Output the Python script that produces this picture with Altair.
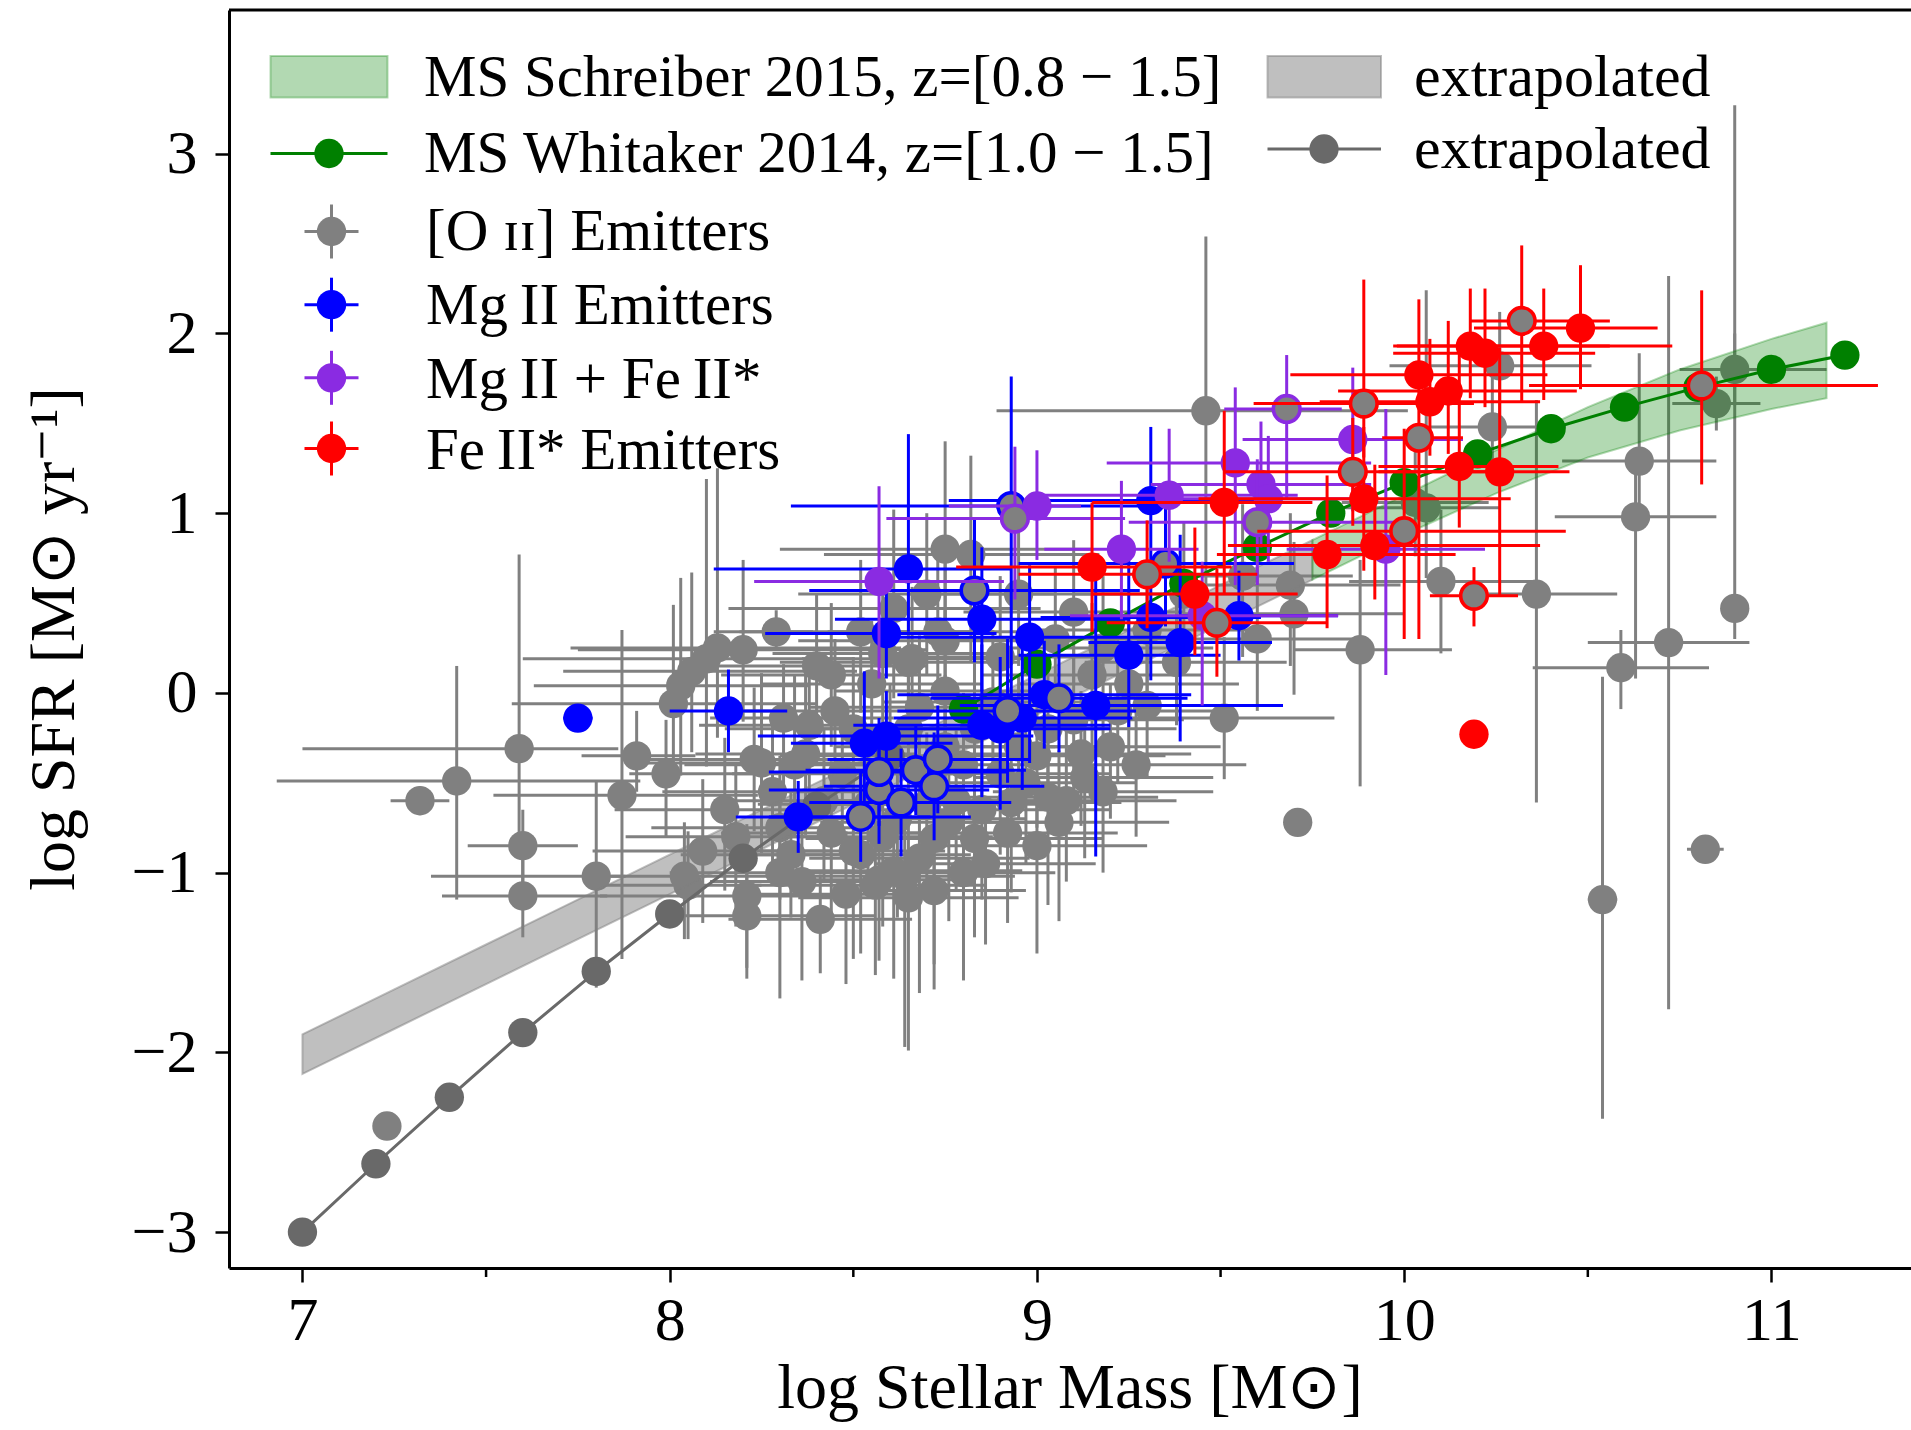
import altair as alt
import pandas as pd

# ---------------------------------------------------------------- data
# every row: log M*, log SFR, -err M, +err M, -err SFR, +err SFR
oii_rows = [
    (7.23, -2.41, 0.01, 0.01, 0.01, 0.01),
    (7.32, -0.60, 0.08, 0.08, 0.08, 0.08),
    (7.42, -0.49, 0.49, 0.50, 0.66, 0.64),
    (7.59, -0.31, 0.59, 0.27, 0.50, 1.08),
    (7.60, -0.85, 0.15, 0.15, 0.28, 0.20),
    (7.60, -1.13, 0.22, 0.23, 0.23, 0.20),
    (7.80, -1.02, 0.45, 0.08, 0.62, 0.53),
    (7.87, -0.57, 0.35, 0.37, 0.91, 0.92),
    (7.91, -0.35, 0.15, 0.16, 0.20, 0.25),
    (7.99, -0.45, 0.10, 0.25, 0.35, 0.30),
    (8.01, -0.06, 0.44, 0.39, 0.40, 0.55),
    (8.03, 0.04, 0.40, 0.35, 0.50, 0.60),
    (8.06, 0.12, 0.35, 0.45, 0.45, 0.55),
    (8.10, 0.19, 0.50, 0.40, 0.60, 1.00),
    (8.13, 0.25, 0.40, 0.50, 0.50, 1.00),
    (8.20, 0.24, 0.45, 0.50, 0.40, 0.50),
    (8.29, 0.34, 0.10, 0.10, 0.10, 0.12),
    (8.31, -0.14, 0.20, 0.30, 0.40, 0.30),
    (8.25, -0.39, 0.35, 0.35, 0.50, 0.50),
    (8.05, -1.07, 0.25, 0.20, 0.30, 0.30),
    (8.21, -1.13, 0.40, 0.30, 0.40, 0.40),
    (8.21, -1.24, 0.20, 0.35, 0.35, 0.35),
    (8.41, -1.26, 0.25, 0.25, 0.30, 0.25),
    (8.33, -0.90, 0.30, 0.30, 0.35, 0.35),
    (8.34, -0.40, 0.30, 0.25, 0.40, 0.50),
    (8.56, -1.07, 0.35, 0.30, 0.50, 0.40),
    (8.65, -1.14, 0.30, 0.30, 0.85, 0.40),
    (8.61, -0.99, 0.25, 0.35, 0.60, 0.45),
    (8.52, -0.90, 0.30, 0.30, 0.55, 0.45),
    (8.75, 0.80, 0.45, 0.40, 0.50, 0.60),
    (8.82, 0.77, 0.40, 0.35, 0.60, 0.55),
    (8.75, 0.29, 0.40, 0.35, 0.60, 0.55),
    (8.66, 0.19, 0.30, 0.35, 0.45, 0.40),
    (8.75, 0.01, 0.30, 0.30, 0.50, 0.45),
    (8.61, 0.47, 0.45, 0.40, 0.50, 0.55),
    (9.46, 1.57, 0.57, 0.55, 1.00, 0.97),
    (9.88, 0.24, 0.18, 0.25, 0.76, 0.50),
    (9.51, -0.14, 0.25, 0.30, 0.34, 0.45),
    (9.71, -0.72, 0.02, 0.02, 0.02, 0.02),
    (10.06, 1.03, 0.25, 0.20, 0.39, 1.21),
    (9.69, 0.60, 0.30, 0.30, 0.45, 0.40),
    (10.26, 1.82, 0.30, 0.25, 0.40, 0.30),
    (10.24, 1.48, 0.20, 0.20, 0.30, 0.30),
    (10.36, 0.55, 0.13, 0.22, 1.16, 1.08),
    (10.64, 1.29, 0.21, 0.21, 0.35, 0.60),
    (10.63, 0.98, 0.22, 0.22, 0.90, 0.30),
    (10.90, 1.80, 0.15, 0.25, 0.20, 0.20),
    (10.85, 1.61, 0.12, 0.12, 0.15, 0.15),
    (10.90, 0.47, 0.03, 0.03, 0.17, 2.80),
    (10.72, 0.28, 0.22, 0.22, 2.04, 2.04),
    (10.59, 0.14, 0.24, 0.24, 0.23, 0.21),
    (10.54, -1.15, 0.04, 0.04, 1.22, 1.24),
    (10.82, -0.87, 0.05, 0.05, 0.02, 0.02),
    (8.50, -0.88, 0.30, 0.25, 0.60, 0.40),
    (8.72, -0.81, 0.35, 0.30, 0.70, 0.45),
    (8.83, -0.81, 0.30, 0.35, 0.55, 0.40),
    (8.93, -0.61, 0.30, 0.30, 0.50, 0.35),
    (9.03, -0.58, 0.35, 0.30, 0.60, 0.40),
    (9.13, -0.47, 0.30, 0.35, 0.45, 0.35),
    (9.03, -0.20, 0.35, 0.35, 0.40, 0.40),
    (9.12, -0.34, 0.30, 0.30, 0.40, 0.35),
    (9.30, -0.07, 0.30, 0.35, 0.40, 0.35),
    (9.38, 0.17, 0.25, 0.30, 0.35, 0.40),
    (8.65, 0.17, 0.35, 0.30, 0.40, 0.40),
    (8.73, 0.34, 0.30, 0.35, 0.40, 0.45),
    (8.52, 0.34, 0.40, 0.35, 0.45, 0.40),
    (8.65, -0.20, 0.35, 0.30, 0.45, 0.40),
    (8.83, -0.20, 0.30, 0.35, 0.40, 0.45),
    (8.50, -0.20, 0.35, 0.35, 0.40, 0.40),
    (8.37, -0.34, 0.30, 0.30, 0.45, 0.45),
    (8.23, -0.37, 0.30, 0.30, 0.40, 0.40),
    (8.30, -0.75, 0.35, 0.30, 0.40, 0.40),
    (8.09, -0.88, 0.30, 0.35, 0.40, 0.40),
    (8.04, -1.02, 0.20, 0.25, 0.35, 0.30),
    (8.57, -1.04, 0.25, 0.25, 0.45, 0.40),
    (8.64, -1.02, 0.25, 0.30, 0.95, 0.40),
    (8.42, -0.60, 0.30, 0.30, 0.45, 0.40),
    (8.47, -0.45, 0.30, 0.35, 0.40, 0.40),
    (8.78, -0.60, 0.35, 0.30, 0.50, 0.40),
    (8.90, -0.45, 0.30, 0.30, 0.45, 0.35),
    (8.95, -0.30, 0.30, 0.30, 0.40, 0.40),
    (9.08, -0.60, 0.25, 0.30, 0.45, 0.40),
    (9.20, -0.30, 0.30, 0.30, 0.40, 0.35),
    (9.25, 0.05, 0.30, 0.30, 0.40, 0.40),
    (9.05, 0.30, 0.30, 0.35, 0.40, 0.40),
    (8.90, 0.20, 0.35, 0.30, 0.40, 0.45),
    (8.55, 0.05, 0.30, 0.30, 0.40, 0.35),
    (8.45, -0.10, 0.30, 0.30, 0.40, 0.40),
    (8.80, -1.00, 0.25, 0.25, 0.60, 0.40),
    (8.72, -1.10, 0.20, 0.25, 0.55, 0.40),
    (9.00, -0.85, 0.30, 0.30, 0.60, 0.40),
    (8.75, -0.30, 0.30, 0.30, 0.40, 0.40),
    (8.88, -0.05, 0.30, 0.35, 0.40, 0.40),
    (9.15, 0.10, 0.30, 0.30, 0.40, 0.40),
    (9.56, 0.65, 0.30, 0.30, 0.45, 0.40),
    (9.70, 0.44, 0.30, 0.30, 0.45, 0.40),
    (9.60, 0.30, 0.25, 0.30, 0.40, 0.40),
    (10.03, 1.06, 0.20, 0.20, 0.30, 0.30),
    (10.10, 0.62, 0.25, 0.25, 0.40, 0.40),
    (9.40, 0.55, 0.30, 0.30, 0.40, 0.40),
    (9.30, 0.35, 0.30, 0.30, 0.40, 0.35),
    (8.40, 0.15, 0.30, 0.30, 0.40, 0.40),
    (8.28, -0.55, 0.30, 0.30, 0.45, 0.40),
    (8.36, -1.05, 0.25, 0.30, 0.55, 0.40),
    (8.44, -0.78, 0.30, 0.30, 0.50, 0.40),
    (8.48, -1.12, 0.25, 0.25, 0.50, 0.35),
    (8.54, -0.62, 0.30, 0.30, 0.45, 0.40),
    (8.58, -0.80, 0.30, 0.30, 0.50, 0.40),
    (8.62, -0.70, 0.30, 0.35, 0.55, 0.40),
    (8.68, -0.92, 0.30, 0.30, 0.75, 0.40),
    (8.70, -0.62, 0.30, 0.30, 0.50, 0.40),
    (8.76, -0.72, 0.35, 0.30, 0.55, 0.40),
    (8.80, -0.40, 0.30, 0.30, 0.45, 0.40),
    (8.85, -0.65, 0.30, 0.35, 0.50, 0.40),
    (8.86, -0.95, 0.30, 0.30, 0.45, 0.35),
    (8.92, -0.78, 0.30, 0.30, 0.50, 0.40),
    (8.97, -0.50, 0.30, 0.30, 0.45, 0.40),
    (9.00, -0.35, 0.30, 0.35, 0.40, 0.40),
    (9.06, -0.72, 0.30, 0.30, 0.55, 0.40),
    (9.10, -0.15, 0.30, 0.30, 0.40, 0.40),
    (9.18, -0.55, 0.30, 0.30, 0.45, 0.40),
    (9.22, -0.10, 0.30, 0.30, 0.40, 0.40),
    (9.27, -0.40, 0.25, 0.30, 0.40, 0.35),
    (8.60, -0.35, 0.30, 0.30, 0.40, 0.40),
    (8.68, -0.08, 0.30, 0.30, 0.40, 0.40),
    (8.44, 0.10, 0.30, 0.30, 0.40, 0.40),
    (8.58, 0.22, 0.30, 0.30, 0.40, 0.40),
    (8.70, 0.55, 0.35, 0.35, 0.45, 0.45),
    (8.95, 0.55, 0.30, 0.30, 0.40, 0.40),
    (9.10, 0.45, 0.30, 0.30, 0.40, 0.40),
    (9.18, 0.25, 0.30, 0.30, 0.40, 0.40),
    (8.38, -0.18, 0.30, 0.30, 0.40, 0.40),
    (8.30, -1.00, 0.30, 0.30, 0.70, 0.40),
    (8.15, -0.65, 0.30, 0.30, 0.45, 0.40),
    (8.18, -0.80, 0.30, 0.30, 0.50, 0.40),
]

mgii_rows = [
    (7.75, -0.14, 0.04, 0.04, 0.03, 0.03),
    (8.16, -0.10, 0.16, 0.16, 0.23, 0.23),
    (8.35, -0.69, 0.17, 0.36, 0.20, 0.20),
    (8.59, 0.33, 0.33, 0.30, 0.25, 0.25),
    (8.65, 0.69, 0.53, 0.28, 0.35, 0.75),
    (8.85, 0.41, 0.40, 0.40, 0.40, 0.40),
    (8.98, 0.31, 0.40, 0.40, 0.70, 0.40),
    (8.53, -0.28, 0.20, 0.24, 0.45, 0.40),
    (8.59, -0.24, 0.35, 0.40, 0.30, 0.25),
    (8.85, -0.18, 0.35, 0.35, 0.40, 0.45),
    (8.90, -0.20, 0.30, 0.30, 0.45, 0.40),
    (8.96, -0.14, 0.35, 0.30, 0.40, 0.45),
    (9.02, -0.01, 0.40, 0.40, 0.30, 0.30),
    (9.16, -0.07, 0.37, 0.51, 0.84, 0.72),
    (9.31, 1.07, 0.55, 0.30, 0.36, 0.41),
    (9.31, 0.42, 0.30, 0.30, 0.35, 0.30),
    (9.39, 0.28, 0.25, 0.25, 0.55, 0.60),
    (9.25, 0.21, 0.30, 0.25, 0.40, 0.60),
    (9.55, 0.43, 0.16, 0.27, 0.25, 0.25),
]
mgii_ring_rows = [
    (8.93, 1.04, 0.60, 0.40, 1.18, 0.72),
    (8.83, 0.57, 0.45, 0.45, 0.40, 0.40),
    (9.35, 0.72, 0.40, 0.35, 0.35, 0.35),
    (8.52, -0.69, 0.25, 0.30, 0.25, 0.25),
    (8.57, -0.54, 0.30, 0.30, 0.30, 0.30),
    (8.57, -0.44, 0.30, 0.35, 0.30, 0.30),
    (8.63, -0.61, 0.25, 0.30, 0.30, 0.30),
    (8.67, -0.43, 0.30, 0.30, 0.25, 0.25),
    (8.73, -0.37, 0.30, 0.25, 0.30, 0.30),
    (8.72, -0.52, 0.30, 0.30, 0.30, 0.30),
    (9.06, -0.03, 0.35, 0.35, 0.30, 0.30),
    (8.92, -0.10, 0.30, 0.35, 0.40, 0.40),
]

mgfe_rows = [
    (8.57, 0.62, 0.34, 0.34, 0.54, 0.53),
    (9.00, 1.04, 0.24, 0.12, 0.30, 0.31),
    (9.36, 1.10, 0.35, 0.35, 0.37, 0.37),
    (9.23, 0.80, 0.21, 0.21, 0.39, 0.38),
    (9.54, 1.28, 0.35, 0.37, 0.68, 0.42),
    (9.61, 1.16, 0.30, 0.30, 0.35, 0.35),
    (9.63, 1.08, 0.30, 0.30, 0.35, 0.35),
    (9.86, 1.41, 0.30, 0.30, 0.40, 0.40),
    (9.45, 0.43, 0.36, 0.37, 0.50, 0.30),
    (9.95, 0.80, 0.27, 0.27, 0.70, 0.78),
]
mgfe_ring_rows = [
    (8.94, 0.97, 0.35, 0.30, 0.45, 0.40),
    (9.68, 1.58, 0.17, 0.15, 0.50, 0.30),
    (9.60, 0.95, 0.35, 0.40, 0.35, 0.35),
]

feii_rows = [
    (9.15, 0.70, 0.37, 0.38, 0.36, 0.36),
    (9.51, 1.06, 0.36, 0.24, 0.51, 0.51),
    (9.43, 0.55, 0.28, 0.28, 0.34, 0.37),
    (9.79, 0.77, 0.30, 0.35, 0.41, 0.44),
    (9.92, 0.82, 0.40, 0.45, 0.30, 0.45),
    (9.89, 1.08, 0.45, 0.40, 0.40, 0.40),
    (10.15, 1.26, 0.22, 0.27, 0.34, 0.71),
    (10.26, 1.23, 0.33, 0.19, 0.69, 0.69),
    (10.04, 1.77, 0.35, 0.35, 0.34, 0.42),
    (10.12, 1.68, 0.30, 0.35, 0.35, 0.39),
    (10.07, 1.62, 0.30, 0.30, 0.30, 0.35),
    (10.18, 1.93, 0.21, 0.38, 0.29, 0.32),
    (10.22, 1.89, 0.25, 0.30, 0.30, 0.36),
    (10.38, 1.93, 0.40, 0.35, 0.30, 0.32),
    (10.48, 2.03, 0.29, 0.21, 0.34, 0.35),
    (10.19, -0.23, 0.02, 0.02, 0.02, 0.02),
]
feii_ring_rows = [
    (9.30, 0.66, 0.35, 0.30, 0.30, 0.30),
    (9.49, 0.39, 0.30, 0.30, 0.30, 0.30),
    (9.89, 1.61, 0.30, 0.30, 0.30, 0.69),
    (10.04, 1.42, 0.10, 0.12, 1.12, 0.07),
    (9.86, 1.23, 0.35, 0.40, 0.30, 0.30),
    (10.00, 0.90, 0.40, 0.44, 0.60, 0.57),
    (10.19, 0.54, 0.12, 0.12, 0.17, 0.16),
    (10.32, 2.07, 0.14, 0.24, 0.45, 0.42),
    (10.81, 1.71, 0.47, 0.48, 0.55, 0.53),
]

# Whitaker et al. (2014) main sequence, 1.0 < z < 1.5
whit_mass = [7.0, 7.2, 7.4, 7.6, 7.8, 8.0, 8.2, 8.4, 8.6, 8.8, 9.0,
             9.2, 9.4, 9.6, 9.8, 10.0, 10.2, 10.4, 10.6, 10.8, 11.0, 11.2]
whit_sfr = [-3.00, -2.62, -2.25, -1.89, -1.55, -1.23, -0.92, -0.63, -0.35,
            -0.09, 0.16, 0.39, 0.61, 0.81, 1.00, 1.17, 1.33, 1.47, 1.59,
            1.70, 1.80, 1.88]
whit_mass_limit = 8.6  # points at or below this mass are extrapolated

# Schreiber et al. (2015) main sequence band, z = 0.8 (low) to 1.5 (high)
schr_ext_mass = [7.0, 7.25, 7.5, 7.75, 8.0, 8.25, 8.5, 8.75, 9.0, 9.25, 9.5, 9.75]
schr_ext_low = [-2.12, -1.87, -1.62, -1.37, -1.12, -0.87, -0.62, -0.37,
                -0.12, 0.13, 0.38, 0.63]
schr_ext_high = [-1.90, -1.65, -1.40, -1.15, -0.90, -0.65, -0.40, -0.15,
                 0.10, 0.35, 0.60, 0.85]
schr_mass = [9.75, 10.0, 10.25, 10.5, 10.75, 11.0, 11.15]
schr_low = [0.63, 0.88, 1.11, 1.31, 1.46, 1.58, 1.64]
schr_high = [0.85, 1.10, 1.35, 1.59, 1.80, 1.97, 2.06]

x_major = [7, 8, 9, 10, 11]
x_minor = [7.5, 8.5, 9.5, 10.5]
y_major = [-3, -2, -1, 0, 1, 2, 3]

# ---------------------------------------------------------------- style
FONT = "Liberation Serif"
W, H = 1682, 1258
GRAY, DIMGRAY = "#808080", "#696969"
BLUE, PURPLE, RED, GREEN = "#0000ff", "#8a2be2", "#ff0000", "#008000"
DOT = 860        # marker area, ~33 px across
RING = 707       # face area of edged markers
EBW = 3.0        # error bar width

xs = alt.Scale(domain=[6.8, 11.38], nice=False, zero=False)
ys = alt.Scale(domain=[-3.2, 3.8], nice=False, zero=False)

axis_style = dict(
    tickSize=14, tickWidth=2.5, tickColor="black",
    domainColor="black", domainWidth=3, grid=False,
    labelFont=FONT, labelFontSize=62, labelColor="black",
)
x_axis = alt.Axis(values=x_major, format="d", labelPadding=8, **axis_style)
y_axis = alt.Axis(values=y_major, format="d", labelPadding=18,
                  labelExpr="replace(datum.label, '-', '\u2212')", **axis_style)


def X(field):
    return alt.X(field, type="quantitative", scale=xs, axis=x_axis, title=None)


def Y(field):
    return alt.Y(field, type="quantitative", scale=ys, axis=y_axis, title=None)


def table(rows):
    df = pd.DataFrame(rows, columns=["m", "s", "dm_lo", "dm_hi", "ds_lo", "ds_hi"])
    df["m_left"] = df["m"] - df["dm_lo"]
    df["m_right"] = df["m"] + df["dm_hi"]
    df["s_low"] = df["s"] - df["ds_lo"]
    df["s_up"] = df["s"] + df["ds_hi"]
    return df


def error_bars(df, color):
    base = alt.Chart(df)
    horiz = base.mark_rule(color=color, strokeWidth=EBW).encode(
        x=X("m_left"), x2=alt.X2("m_right"), y=Y("s"))
    vert = base.mark_rule(color=color, strokeWidth=EBW).encode(
        x=X("m"), y=Y("s_low"), y2=alt.Y2("s_up"))
    return [horiz, vert]


def dots(df, face, edge=None):
    if edge is None:
        mark = dict(fill=face, size=DOT, opacity=1, strokeWidth=0)
    else:
        mark = dict(fill=face, stroke=edge, strokeWidth=3.6, size=RING, opacity=1)
    return alt.Chart(df).mark_circle(**mark).encode(x=X("m"), y=Y("s"))


def group(rows, color, face=None, edge=None):
    df = table(rows)
    return error_bars(df, color) + [dots(df, face or color, edge)]


layers = []

# [O II] emitters
layers += group(oii_rows, GRAY)

# Schreiber band: extrapolated part, then measured part
band_ext = pd.DataFrame({"m": schr_ext_mass, "lo": schr_ext_low, "hi": schr_ext_high})
band = pd.DataFrame({"m": schr_mass, "lo": schr_low, "hi": schr_high})
layers.append(alt.Chart(band_ext).mark_area(
    fill=GRAY, fillOpacity=0.5, stroke=GRAY, strokeOpacity=0.5, strokeWidth=2
).encode(x=X("m"), y=Y("lo"), y2=alt.Y2("hi")))
layers.append(alt.Chart(band).mark_area(
    fill=GREEN, fillOpacity=0.3, stroke=GREEN, strokeOpacity=0.3, strokeWidth=2
).encode(x=X("m"), y=Y("lo"), y2=alt.Y2("hi")))

# Whitaker relation
whit = pd.DataFrame({"m": whit_mass, "s": whit_sfr})
whit_ext = whit[whit["m"] <= whit_mass_limit]
whit_fit = whit[whit["m"] > whit_mass_limit]
for df, col in ((whit_ext, DIMGRAY), (whit_fit, GREEN)):
    layers.append(alt.Chart(df).mark_line(color=col, strokeWidth=3).encode(
        x=X("m"), y=Y("s"), order="m:Q"))
    layers.append(alt.Chart(df).mark_circle(fill=col, size=DOT, opacity=1, strokeWidth=0)
                  .encode(x=X("m"), y=Y("s")))

# Mg II, Mg II + Fe II*, Fe II* emitters
layers += group(mgii_rows, BLUE)
layers += group(mgii_ring_rows, BLUE, face=GRAY, edge=BLUE)
layers += group(mgfe_rows, PURPLE)
layers += group(mgfe_ring_rows, PURPLE, face=GRAY, edge=PURPLE)
layers += group(feii_rows, RED)
layers += group(feii_ring_rows, RED, face=GRAY, edge=RED)

# minor ticks on the mass axis
layers.append(alt.Chart(pd.DataFrame({"m": x_minor})).mark_rule(
    color="black", strokeWidth=2.5).encode(x=X("m"), y=alt.value(H), y2=alt.value(H + 9)))

# top edge of the frame
one = pd.DataFrame({"k": [0]})
layers.append(alt.Chart(one).mark_rule(color="black", strokeWidth=3).encode(
    x=alt.value(0), x2=alt.value(W), y=alt.value(0)))

# ---------------------------------------------------------------- legend
def rect(x1, x2, y1, y2, color, alpha):
    return alt.Chart(one).mark_rect(
        fill=color, fillOpacity=alpha, stroke=color, strokeOpacity=alpha, strokeWidth=2
    ).encode(x=alt.value(x1), x2=alt.value(x2), y=alt.value(y1), y2=alt.value(y2))


def hline(x1, x2, y, color, w):
    return alt.Chart(one).mark_rule(color=color, strokeWidth=w).encode(
        x=alt.value(x1), x2=alt.value(x2), y=alt.value(y))


def vline(x, y1, y2, color, w):
    return alt.Chart(one).mark_rule(color=color, strokeWidth=w).encode(
        x=alt.value(x), y=alt.value(y1), y2=alt.value(y2))


def dot(x, y, color):
    return alt.Chart(one).mark_circle(fill=color, size=DOT, opacity=1, strokeWidth=0).encode(
        x=alt.value(x), y=alt.value(y))


def label(x, y, txt, size=59, angle=0, align="left"):
    return alt.Chart(one).mark_text(
        font=FONT, fontSize=size, color="black", align=align, baseline="alphabetic",
        angle=angle
    ).encode(x=alt.value(x), y=alt.value(y), text=alt.value(txt))


layers.append(rect(41.5, 158.5, 46, 87.5, GREEN, 0.3))
layers.append(label(195, 86, "MS Schreiber 2015, z=[0.8 \u2212 1.5]"))
layers.append(hline(41.5, 158.5, 143.5, GREEN, 3))
layers.append(dot(100, 143.5, GREEN))
layers.append(label(195, 162, "MS Whitaker 2014, z=[1.0 \u2212 1.5]"))

layers.append(rect(1038.5, 1152, 46, 87.5, GRAY, 0.5))
layers.append(label(1185, 86, "extrapolated", size=60))
layers.append(hline(1038.5, 1152, 139, DIMGRAY, 3))
layers.append(dot(1095, 139, DIMGRAY))
layers.append(label(1185, 158, "extrapolated", size=60))

entries = [
    (221.5, 240, GRAY, "[O \u026a\u026a] Emitters"),
    (294.7, 314, BLUE, "Mg\u2009II Emitters"),
    (367.8, 388, PURPLE, "Mg\u2009II + Fe\u2009II*"),
    (438.5, 459, RED, "Fe\u2009II* Emitters"),
]
for cy, base_y, col, txt in entries:
    layers.append(hline(75.5, 129.5, cy, col, EBW))
    layers.append(vline(102.5, cy - 27, cy + 27, col, EBW))
    layers.append(dot(102.5, cy, col))
    layers.append(label(197, base_y, txt))

# axis titles
layers.append(label(W / 2, 1398, "log Stellar Mass [M\u2299]", size=64, align="center"))
layers.append(label(-155, H / 2, "log SFR [M\u2299 yr\u207b\u00b9]", size=64, angle=270,
                    align="center"))

chart = alt.layer(*layers).properties(
    width=W, height=H,
    padding={"left": 229, "top": 10, "right": 0, "bottom": 160},
    autosize=alt.AutoSizeParams(type="none"),
    background="white",
).configure_view(stroke=None)

chart.save("out.html", embed_options={"renderer": "svg", "actions": False})
